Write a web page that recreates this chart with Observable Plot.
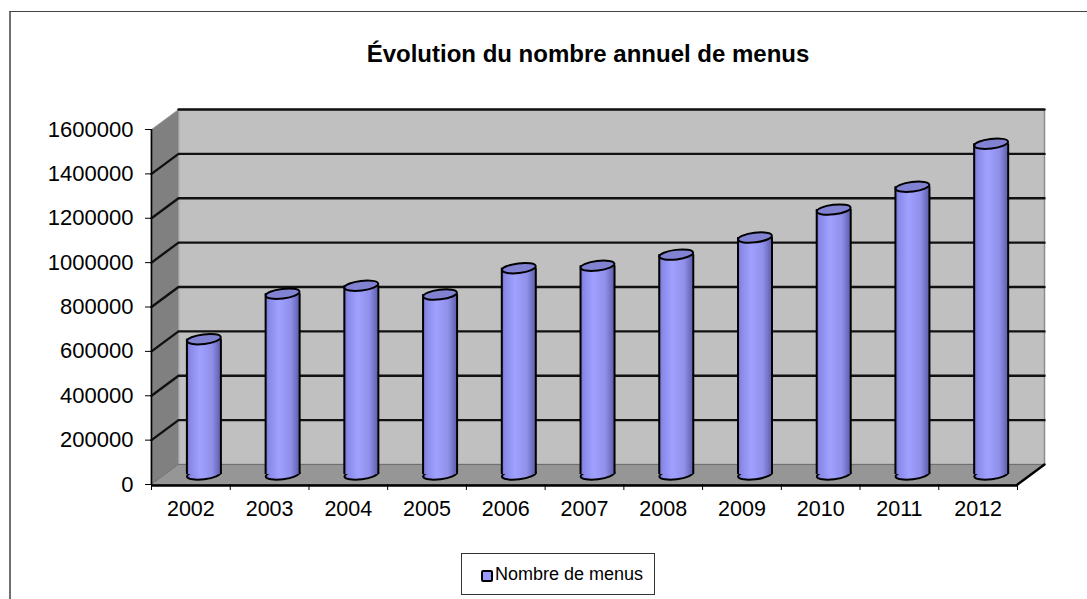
<!DOCTYPE html>
<html lang="fr">
<head>
<meta charset="utf-8">
<script src="https://cdn.jsdelivr.net/npm/d3@7"></script>
<script src="https://cdn.jsdelivr.net/npm/@observablehq/plot@0.6"></script>
<style>
html,body{margin:0;padding:0;background:#fff;width:1087px;height:599px;overflow:hidden;font-family:"Liberation Sans",Arial,sans-serif;}
#frame{position:absolute;left:9px;top:11px;right:0;bottom:0;border-left:2px solid #707070;border-top:1.5px solid #444;}
#title{position:absolute;left:288px;width:600px;top:40px;text-align:center;font-weight:bold;font-size:24px;line-height:28px;color:#000;}
#legend{position:absolute;left:461px;top:553px;width:192px;height:40px;border:1px solid #333;background:#fff;}
#swatch{position:absolute;left:19px;top:16px;width:8px;height:8px;border:2px solid #000;border-radius:2px;background:#9999ff;}
#ltext{position:absolute;left:33px;top:0;line-height:40px;font-size:18px;color:#000;white-space:nowrap;}
#chart{position:absolute;left:0;top:0;}
</style>
</head>
<body>
<div id="frame"></div>
<div id="chart"></div>
<div id="title">Évolution du nombre annuel de menus</div>
<div id="legend"><div id="swatch"></div><div id="ltext">Nombre de menus</div></div>
<script>
const years = [2002,2003,2004,2005,2006,2007,2008,2009,2010,2011,2012];
const menus = [610000,815000,851000,811000,930000,941000,991000,1068000,1194000,1297000,1491000];
const yTicks = [0,200000,400000,600000,800000,1000000,1200000,1400000,1600000];

// Depth of the fake 3D box, in data units of each scale
const depthX = 0.343, depthY = 90000, yMax = 1600000, n = years.length;
const barHalf = 0.216;

const poly = (id, pts) => pts.map(([x, y]) => ({id, x, y}));
const sideWall = poly("side", [[0,0],[depthX,depthY],[depthX,yMax+depthY],[0,yMax]]);
const floor = poly("floor", [[0,0],[n,0],[n+depthX,depthY],[depthX,depthY]]);
const backWall = poly("back", [[depthX,depthY],[n+depthX,depthY],[n+depthX,yMax+depthY],[depthX,yMax+depthY]]);
const gridLines = yTicks.slice(1).flatMap(t =>
  t === yMax
    ? poly(t, [[depthX,t+depthY],[n+depthX,t+depthY]])
    : poly(t, [[0,t],[depthX,t+depthY],[n+depthX,t+depthY]]));

const bars = years.map((year, i) => ({year, v: menus[i], cx: i + 0.5 + depthX/2 - 0.006}));

function ellipseSymbol(rx, ry, deg) {
  const a = deg * Math.PI / 180, c = Math.cos(a), s = Math.sin(a), k = 0.5523;
  const p = (u, v) => [u*rx*c - v*ry*s, u*rx*s + v*ry*c];
  return {draw(ctx) {
    ctx.moveTo(...p(1,0));
    ctx.bezierCurveTo(...p(1,k),...p(k,1),...p(0,1));
    ctx.bezierCurveTo(...p(-k,1),...p(-1,k),...p(-1,0));
    ctx.bezierCurveTo(...p(-1,-k),...p(-k,-1),...p(0,-1));
    ctx.bezierCurveTo(...p(k,-1),...p(1,-k),...p(1,0));
    ctx.closePath();
  }};
}
const cap = ellipseSymbol(17, 4.8, -7);

function gradientDefs() {
  const defs = d3.create("svg:defs");
  const g = defs.append("linearGradient").attr("id","cyl").attr("x1",0).attr("x2",1).attr("y1",0).attr("y2",0);
  [[0,"#6a6abf"],[0.1,"#8888e6"],[0.4,"#a0a0ff"],[0.75,"#9090ea"],[1,"#5f5fae"]]
    .forEach(([o,c]) => g.append("stop").attr("offset",o).attr("stop-color",c));
  return defs.node();
}

const plot = Plot.plot({
  width: 1087, height: 599,
  marginLeft: 151, marginRight: 70, marginTop: 129, marginBottom: 115,
  style: {background: "transparent", fontFamily: '"Liberation Sans",Arial,sans-serif', fontSize: "21.5px", color: "#000", overflow: "visible"},
  x: {type: "linear", domain: [0, n], axis: null},
  y: {type: "linear", domain: [0, yMax], nice: false, axis: null},
  marks: [
    gradientDefs,
    Plot.line(backWall, {x:"x", y:"y", z:"id", curve:"linear-closed", fill:"#c0c0c0", stroke:"#8c8c8c", strokeWidth:1.5}),
    Plot.line(sideWall, {x:"x", y:"y", z:"id", curve:"linear-closed", fill:"#808080", stroke:"#a0a0a0", strokeWidth:1}),
    Plot.line(floor, {x:"x", y:"y", z:"id", curve:"linear-closed", fill:"#969696", stroke:"#707070", strokeWidth:1}),
    Plot.line(gridLines, {x:"x", y:"y", z:"id", stroke:"#111", strokeWidth:2.4}),
    // Floor's front-right edge
    Plot.line(poly("edge", [[n,0],[n+depthX,depthY]]), {x:"x", y:"y", stroke:"#000", strokeWidth:2.4}),
    // Cylinders
    Plot.dot(bars, {x:"cx", y:() => depthY/2, r:17, symbol:cap, fill:"url(#cyl)", stroke:"#000", strokeWidth:2}),
    Plot.rect(bars, {x1:d => d.cx-barHalf, x2:d => d.cx+barHalf, y1:() => depthY/2, y2:d => d.v+depthY/2, fill:"url(#cyl)"}),
    Plot.ruleX(bars, {x:d => d.cx-barHalf, y1:() => depthY/2, y2:d => d.v+depthY/2, stroke:"#000", strokeWidth:2}),
    Plot.ruleX(bars, {x:d => d.cx+barHalf, y1:() => depthY/2, y2:d => d.v+depthY/2, stroke:"#000", strokeWidth:2}),
    Plot.dot(bars, {x:"cx", y:d => d.v+depthY/2, r:17, symbol:cap, fill:"#8282d2", stroke:"#000", strokeWidth:2}),
    // Front axis lines
    Plot.ruleY([0], {x1:0, x2:n, stroke:"#000", strokeWidth:2.4, dy:1}),
    Plot.ruleX([0], {y1:0, y2:yMax, stroke:"#000", strokeWidth:1.6}),
    // Axes
    Plot.axisY({ticks: yTicks, tickSize: 6, tickPadding: 12, fontSize: 22, tickFormat: d => String(d), label: null, anchor:"left", stroke:"#000"}),
    Plot.axisX({ticks: d3.range(n+1), tickSize: 6, tickFormat: () => "", label: null, anchor:"bottom", stroke:"#000"}),
    Plot.axisX({ticks: years.map((_, i) => i + 0.5), tickSize: 0, tickPadding: 16, tickFormat: d => String(years[Math.floor(d)]), label: null, anchor:"bottom"})
  ]
});
document.getElementById("chart").appendChild(plot);
</script>
</body>
</html>
